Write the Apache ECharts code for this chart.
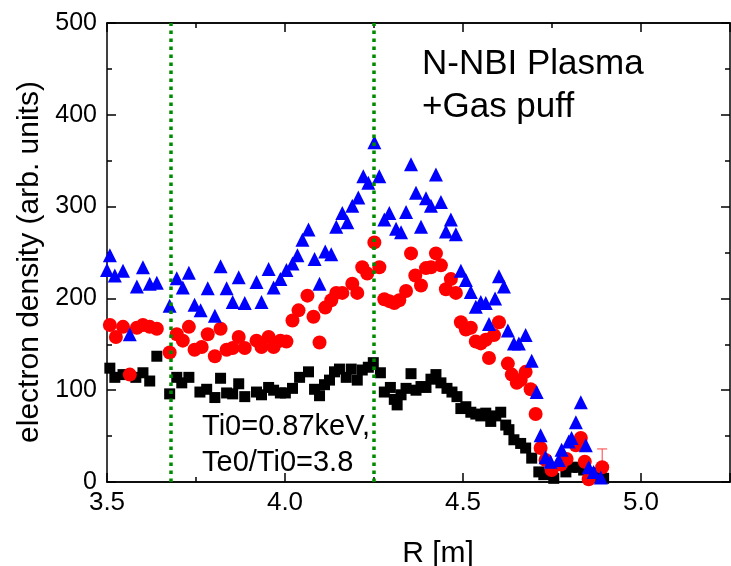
<!DOCTYPE html>
<html>
<head>
<meta charset="utf-8">
<script src="https://cdn.jsdelivr.net/npm/echarts@6/dist/echarts.min.js"></script>
<style>html,body{margin:0;padding:0;background:#fff}#c{width:731px;height:566px}</style>
</head>
<body>
<div id="c"></div>
<script>
// ---- data ----
var blackR = [3.508,3.522,3.545,3.581,3.601,3.620,3.640,3.676,3.696,3.710,3.730,3.761,3.780,3.803,3.819,3.836,3.853,3.870,3.887,3.920,3.934,3.954,3.968,3.987,4.001,4.021,4.041,4.066,4.083,4.097,4.111,4.125,4.139,4.153,4.172,4.186,4.203,4.217,4.234,4.248,4.268,4.279,4.296,4.307,4.315,4.326,4.340,4.354,4.368,4.382,4.396,4.410,4.424,4.438,4.455,4.469,4.483,4.494,4.508,4.522,4.536,4.550,4.564,4.578,4.592,4.606,4.620,4.629,4.643,4.662,4.676,4.693,4.713,4.727,4.755,4.789,4.805,4.825,4.839,4.859,4.881,4.895];
var blackV = [124,114,117,114,119,110,137,96,114,108,114,98,101,92,113,97,96,107,93,98,95,103,100,97,97,102,114,120,101,94,106,111,120,123,114,123,111,122,125,130,119,98,103,90,84,95,102,118,100,104,103,112,117,108,102,98,93,80,82,76,74,72,75,66,72,76,62,57,46,42,37,26,11,8,4,11,16,16,13,10,5,4];

var redR = [3.508,3.525,3.545,3.564,3.584,3.601,3.620,3.640,3.676,3.696,3.713,3.730,3.746,3.766,3.783,3.803,3.819,3.836,3.853,3.870,3.887,3.920,3.934,3.954,3.968,3.987,4.004,4.021,4.038,4.063,4.080,4.097,4.113,4.130,4.144,4.161,4.189,4.203,4.217,4.231,4.251,4.265,4.279,4.293,4.307,4.321,4.340,4.354,4.366,4.382,4.396,4.410,4.424,4.438,4.452,4.466,4.480,4.494,4.508,4.522,4.536,4.550,4.564,4.573,4.587,4.601,4.626,4.637,4.651,4.662,4.676,4.690,4.704,4.718,4.732,4.749,4.775,4.791,4.817,4.831,4.842,4.853,4.891];
var redV = [171,158,169,117,168,171,169,167,141,161,154,169,144,147,161,137,167,144,146,158,146,154,147,158,147,154,153,176,187,203,180,152,190,198,206,206,216,206,234,227,261,234,199,197,195,198,208,249,225,214,233,234,249,236,210,221,206,174,166,168,153,151,155,135,160,174,129,117,108,111,120,101,74,37,24,13,19,25,40,48,22,3,16];

var blueR = [3.500,3.508,3.522,3.545,3.564,3.584,3.601,3.620,3.640,3.676,3.696,3.713,3.730,3.746,3.763,3.783,3.803,3.819,3.836,3.853,3.870,3.887,3.920,3.934,3.954,3.968,3.987,4.004,4.021,4.035,4.049,4.066,4.083,4.097,4.113,4.130,4.144,4.161,4.175,4.189,4.206,4.220,4.234,4.251,4.265,4.279,4.293,4.312,4.326,4.340,4.354,4.368,4.382,4.396,4.410,4.424,4.438,4.452,4.466,4.480,4.494,4.508,4.522,4.536,4.550,4.564,4.573,4.590,4.601,4.615,4.626,4.643,4.657,4.676,4.693,4.707,4.718,4.732,4.746,4.769,4.777,4.797,4.805,4.817,4.831,4.845,4.853,4.867,4.887];
var blueV = [231,247,225,230,161,213,234,216,217,192,222,212,228,193,187,211,181,235,211,196,223,195,218,196,232,212,221,231,238,247,264,275,243,216,251,248,278,293,283,301,310,333,326,370,333,286,293,276,272,294,346,315,278,309,301,335,305,273,286,270,230,220,207,191,196,195,172,200,224,213,165,151,151,160,132,98,51,27,22,24,35,44,48,65,87,40,16,11,5];

// one error bar drawn on the red series (R, low, high)
var redErr = [[4.891, 16, 36]];
// vertical dotted markers (R)
var markerR = [3.682, 4.245];
// tick labels on the R axis
var xTickLabels = ['3.5', '4.0', '4.5', '5.0'];

function zip(a, b) { return a.map(function (v, i) { return [v, b[i]]; }); }

var FONT = 'Liberation Sans, Arial, Helvetica, sans-serif';
var chart = echarts.init(document.getElementById('c'), null, { renderer: 'canvas' });

function xAx(pos, interval, len, labels) {
  return {
    type: 'value', position: pos, min: 3.5, max: 5.25, interval: interval,
    axisLine: { show: true, onZero: false, lineStyle: { color: '#000', width: 1.5 } },
    axisTick: { show: true, inside: true, length: len, lineStyle: { color: '#000', width: 1.5 } },
    axisLabel: labels ? {
      show: true, margin: 8, fontSize: 26, fontFamily: FONT, color: '#000',
      showMaxLabel: false,
      formatter: function (v) {
        var s = v.toFixed(1);
        return xTickLabels.indexOf(s) >= 0 && Math.abs(v * 2 - Math.round(v * 2)) < 1e-6 ? s : '';
      }
    } : { show: false },
    splitLine: { show: false }
  };
}
function yAx(pos, labels) {
  return {
    type: 'value', position: pos, min: 0, max: 500, interval: 100,
    axisLine: { show: true, onZero: false, lineStyle: { color: '#000', width: 1.5 } },
    axisTick: { show: true, inside: true, length: 9, lineStyle: { color: '#000', width: 1.5 } },
    minorTick: { show: true, splitNumber: 2, length: 5, lineStyle: { color: '#000', width: 1.5 } },
    axisLabel: labels ? { show: true, margin: 10, fontSize: 25, fontFamily: FONT, color: '#000' } : { show: false },
    splitLine: { show: false }, minorSplitLine: { show: false }
  };
}

var option = {
  animation: false,
  backgroundColor: '#fff',
  grid: { left: 107, right: 1, top: 23, bottom: 84, containLabel: false },
  xAxis: [
    xAx('bottom', 0.25, 5, true),
    xAx('bottom', 0.5, 9, false),
    xAx('top', 0.25, 5, false),
    xAx('top', 0.5, 9, false)
  ],
  yAxis: [yAx('left', true), yAx('right', false)],
  series: [
    { type: 'scatter', name: 'black', xAxisIndex: 0, yAxisIndex: 0, symbol: 'rect', symbolSize: 11,
      itemStyle: { color: '#000', opacity: 1 }, data: zip(blackR, blackV), z: 2 },
    { type: 'custom', name: 'redErr', xAxisIndex: 0, yAxisIndex: 0, z: 3,
      renderItem: function (params, api) {
        var x = api.value(0);
        var p0 = api.coord([x, api.value(1)]);
        var p1 = api.coord([x, api.value(2)]);
        return { type: 'group', children: [
          { type: 'line', shape: { x1: p0[0], y1: p0[1], x2: p1[0], y2: p1[1] }, style: { stroke: '#ff4040', lineWidth: 1 } },
          { type: 'line', shape: { x1: p1[0] - 5, y1: p1[1], x2: p1[0] + 5, y2: p1[1] }, style: { stroke: '#ff4040', lineWidth: 1 } }
        ] };
      },
      data: redErr },
    { type: 'scatter', name: 'red', xAxisIndex: 0, yAxisIndex: 0, symbol: 'circle', symbolSize: 14,
      itemStyle: { color: '#ff0000', opacity: 1 }, data: zip(redR, redV), z: 3 },
    { type: 'scatter', name: 'blue', xAxisIndex: 0, yAxisIndex: 0, symbol: 'triangle', symbolSize: 14,
      itemStyle: { color: '#0000ff', opacity: 1 }, data: zip(blueR, blueV), z: 4 },
    { type: 'line', name: 'markers', xAxisIndex: 0, yAxisIndex: 0, data: [], z: 6,
      markLine: {
        silent: true, symbol: ['none', 'none'], label: { show: false },
        lineStyle: { color: '#008a00', width: 3.5, type: [3.5, 4.5], opacity: 1 },
        data: markerR.map(function (r) { return { xAxis: r }; })
      } }
  ],
  graphic: [
    { type: 'text', x: 422, y: 64, style: { text: 'N-NBI Plasma', font: '35px ' + FONT, fill: '#000', textAlign: 'left', textVerticalAlign: 'middle' }, z: 10 },
    { type: 'text', x: 422, y: 107, style: { text: '+Gas puff', font: '35px ' + FONT, fill: '#000', textAlign: 'left', textVerticalAlign: 'middle' }, z: 10 },
    { type: 'text', x: 202, y: 427, style: { text: 'Ti0=0.87keV,', font: '29px ' + FONT, fill: '#000', textAlign: 'left', textVerticalAlign: 'middle' }, z: 10 },
    { type: 'text', x: 202, y: 463, style: { text: 'Te0/Ti0=3.8', font: '29px ' + FONT, fill: '#000', textAlign: 'left', textVerticalAlign: 'middle' }, z: 10 },
    { type: 'text', x: 438, y: 554, style: { text: 'R [m]', font: '30px ' + FONT, fill: '#000', textAlign: 'center', textVerticalAlign: 'middle' }, z: 10 },
    { type: 'text', x: 30, y: 262, rotation: Math.PI / 2, style: { text: 'electron density (arb. units)', font: '30px ' + FONT, fill: '#000', textAlign: 'center', textVerticalAlign: 'middle' }, z: 10 }
  ]
};
chart.setOption(option);
</script>
</body>
</html>
